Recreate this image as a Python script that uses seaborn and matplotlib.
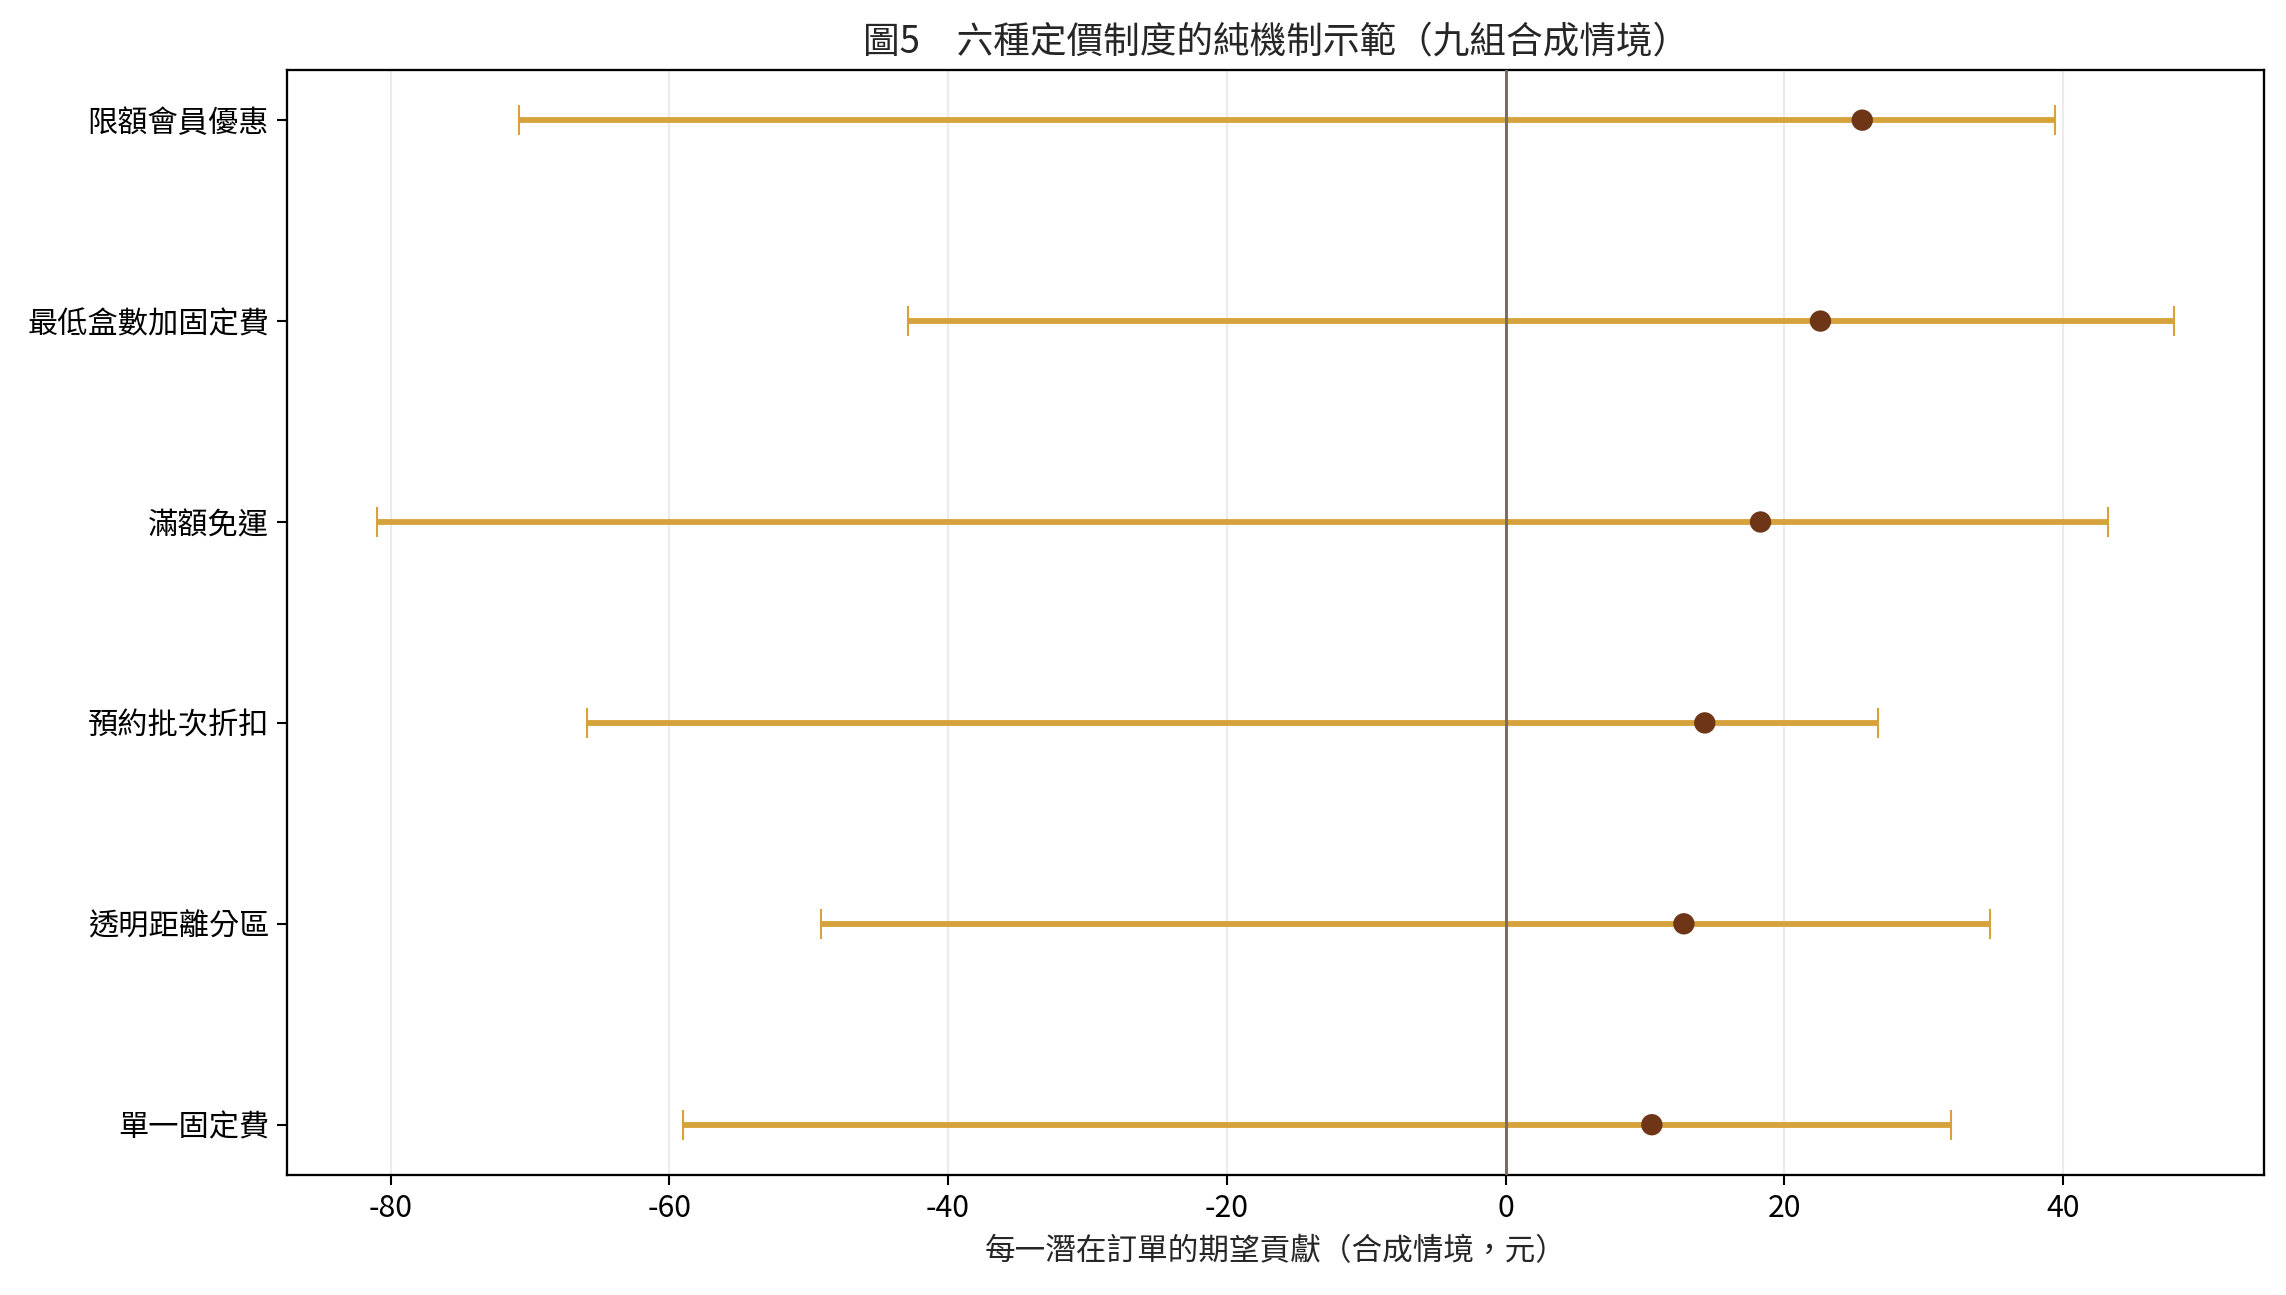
import matplotlib
matplotlib.use("Agg")
import matplotlib.pyplot as plt
import seaborn as sns
import pandas as pd
import numpy as np

categories = ["限額會員優惠", "最低盒數加固定費", "滿額免運", "預約批次折扣", "透明距離分區", "單一固定費"]
point_values = [25.6, 22.6, 18.3, 14.3, 12.8, 10.5]
low_values = [-70.8, -42.9, -81.0, -65.9, -49.1, -59.0]
high_values = [39.4, 48.0, 43.2, 26.7, 34.8, 32.0]

title = "圖5　六種定價制度的純機制示範（九組合成情境）"
xlabel = "每一潛在訂單的期望貢獻（合成情境，元）"

sns.set_theme(style="white")
plt.rcParams['font.family'] = ['Noto Sans CJK TC', 'DejaVu Sans']
plt.rcParams['axes.unicode_minus'] = False

df = pd.DataFrame({"機制": categories, "點估計": point_values,
                   "下界": low_values, "上界": high_values})

fig, ax = plt.subplots(figsize=(2286/150, 1295/150), dpi=150)
fig.subplots_adjust(left=0.1255, right=0.9905, top=0.946, bottom=0.0927)

ypos = np.arange(len(categories))
gold = "#D6A23C"
ax.errorbar(df["點估計"], ypos,
            xerr=[df["點估計"] - df["下界"], df["上界"] - df["點估計"]],
            fmt="none", ecolor=gold, elinewidth=2.8, capsize=7, capthick=1.0, zorder=2)
ax.axvline(0, color="#7A6A5F", lw=1.4, zorder=3)
sns.scatterplot(x=df["點估計"], y=ypos, ax=ax, color="#6E3517", s=105,
                edgecolor="none", zorder=4, legend=False)

ax.set_yticks(ypos)
ax.set_yticklabels(categories)
ax.invert_yaxis()
ax.margins(y=0.05)
ax.set_xticks([-80, -60, -40, -20, 0, 20, 40])
ax.set_xticklabels(["-80", "-60", "-40", "-20", "0", "20", "40"])
ax.tick_params(axis="both", labelsize=14.5, colors="black", length=5, width=1,
               bottom=True, left=True)
ax.grid(axis="x", color="#EBEBEB", lw=1)
ax.grid(axis="y", visible=False)
ax.set_axisbelow(True)
for s in ax.spines.values():
    s.set_color("black")
    s.set_linewidth(1.1)

ax.set_title(title, fontsize=17.6, pad=8)
ax.set_xlabel(xlabel, fontsize=14.7, labelpad=6)
ax.set_ylabel("")

fig.savefig("out.png", dpi=150)
